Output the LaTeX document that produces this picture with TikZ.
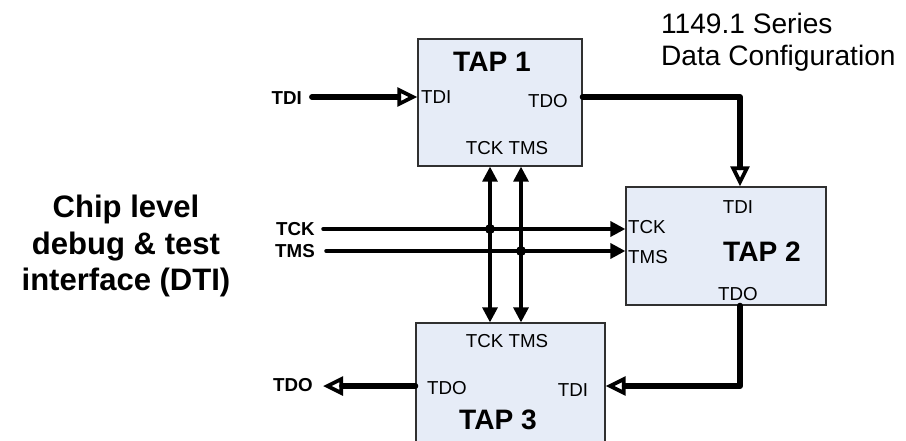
\documentclass[tikz,border=0pt]{standalone}
\usepackage{fontspec}
\setmainfont{Liberation Sans}
\usetikzlibrary{arrows.meta}

\definecolor{tapfill}{HTML}{E6ECF7}
\definecolor{tapedge}{HTML}{303030}

\tikzset{
    tapbox/.style={draw=tapedge, line width=1.1pt, fill=tapfill, inner sep=0pt},
    pinlbl/.style={font=\fontsize{16}{18}\selectfont, inner sep=0pt},
    extlbl/.style={font=\fontsize{16}{18}\selectfont\bfseries, inner sep=0pt},
    taplbl/.style={font=\fontsize{24}{28}\selectfont\bfseries, inner sep=0pt},
    dataline/.style={line width=5pt, line cap=round, line join=round,
        -{Triangle[open, length=0.6cm, width=0.56cm, line width=3.2pt]}},
    ctrlline/.style={line width=3pt, line cap=round,
        -{Triangle[length=0.45cm, width=0.45cm]}},
    busline/.style={line width=2.7pt,
        {Triangle[length=0.45cm, width=0.45cm]}-{Triangle[length=0.45cm, width=0.45cm]}},
}

\begin{document}
\begin{tikzpicture}[x=0.03cm, y=-0.03cm]

    \clip (0,0) rectangle (906,440);

    \node[tapbox, minimum width=4.92cm, minimum height=3.81cm] (tap1) at (500,102.5) {};
    \node[tapbox, minimum width=6cm, minimum height=3.54cm] (tap2) at (726,246) {};
    \node[tapbox, minimum width=5.67cm, minimum height=4.2cm] (tap3) at (510.5,393) {};

    \node[taplbl] (tap1name) at (492,62) {TAP 1};
    \node[pinlbl, anchor=west] (tap1tdi) at (421,97) {TDI};
    \node[pinlbl] (tap1tdo) at (548,101) {TDO};
    \node[pinlbl] (tap1ctl) at (507,148) {TCK TMS};

    \node[taplbl] (tap2name) at (762,252) {TAP 2};
    \node[pinlbl] (tap2tdi) at (738,207) {TDI};
    \node[pinlbl, anchor=west] (tap2tck) at (628,227) {TCK};
    \node[pinlbl, anchor=west] (tap2tms) at (628,257) {TMS};
    \node[pinlbl] (tap2tdo) at (738,294) {TDO};

    \node[taplbl] (tap3name) at (498,420) {TAP 3};
    \node[pinlbl] (tap3ctl) at (507,341) {TCK TMS};
    \node[pinlbl, anchor=west] (tap3tdo) at (427,388) {TDO};
    \node[pinlbl] (tap3tdi) at (573,390) {TDI};

    \node[extlbl, anchor=east] (tdiin) at (302,98) {TDI};
    \node[extlbl, anchor=east] (tckin) at (315,229) {TCK};
    \node[extlbl, anchor=east] (tmsin) at (315,251) {TMS};
    \node[extlbl, anchor=east] (tdoout) at (313,385) {TDO};

    \node[font=\fontsize{26.5}{31}\selectfont\bfseries, align=center] (dti) at (126,246)
        {Chip level\\debug \& test\\interface (DTI)};
    \node[font=\fontsize{24}{27}\selectfont, align=left, anchor=north west] (series) at (657,9)
        {1149.1 Series\\Data Configuration};

    \coordinate (tdistart) at (312,97);
    \coordinate (tckstart) at (323,229);
    \coordinate (tmsstart) at (326,251);
    \coordinate (tdoend) at (323,386);
    \coordinate (bendone) at (740,97);
    \coordinate (bendtwo) at (740,386);
    \coordinate (tckbus) at (490,229);
    \coordinate (tmsbus) at (521,251);

    \draw[dataline] (tdistart) -- (tdistart -| tap1.west);
    \draw[dataline] (bendone -| tap1.east) -- (bendone) -- (bendone |- tap2.north);
    \draw[dataline] (bendone |- tap2.south) -- (bendtwo) -- (bendtwo -| tap3.east);
    \draw[dataline] (tdoend -| tap3.west) -- (tdoend);

    \draw[ctrlline] (tckstart) -- (tckstart -| tap2.west);
    \draw[ctrlline] (tmsstart) -- (tmsstart -| tap2.west);

    \foreach \bus in {tckbus,tmsbus}
    {
        \draw[busline] (\bus |- tap1.south) -- (\bus |- tap3.north);
        \fill (\bus) circle (5);
    }

\end{tikzpicture}
\end{document}
